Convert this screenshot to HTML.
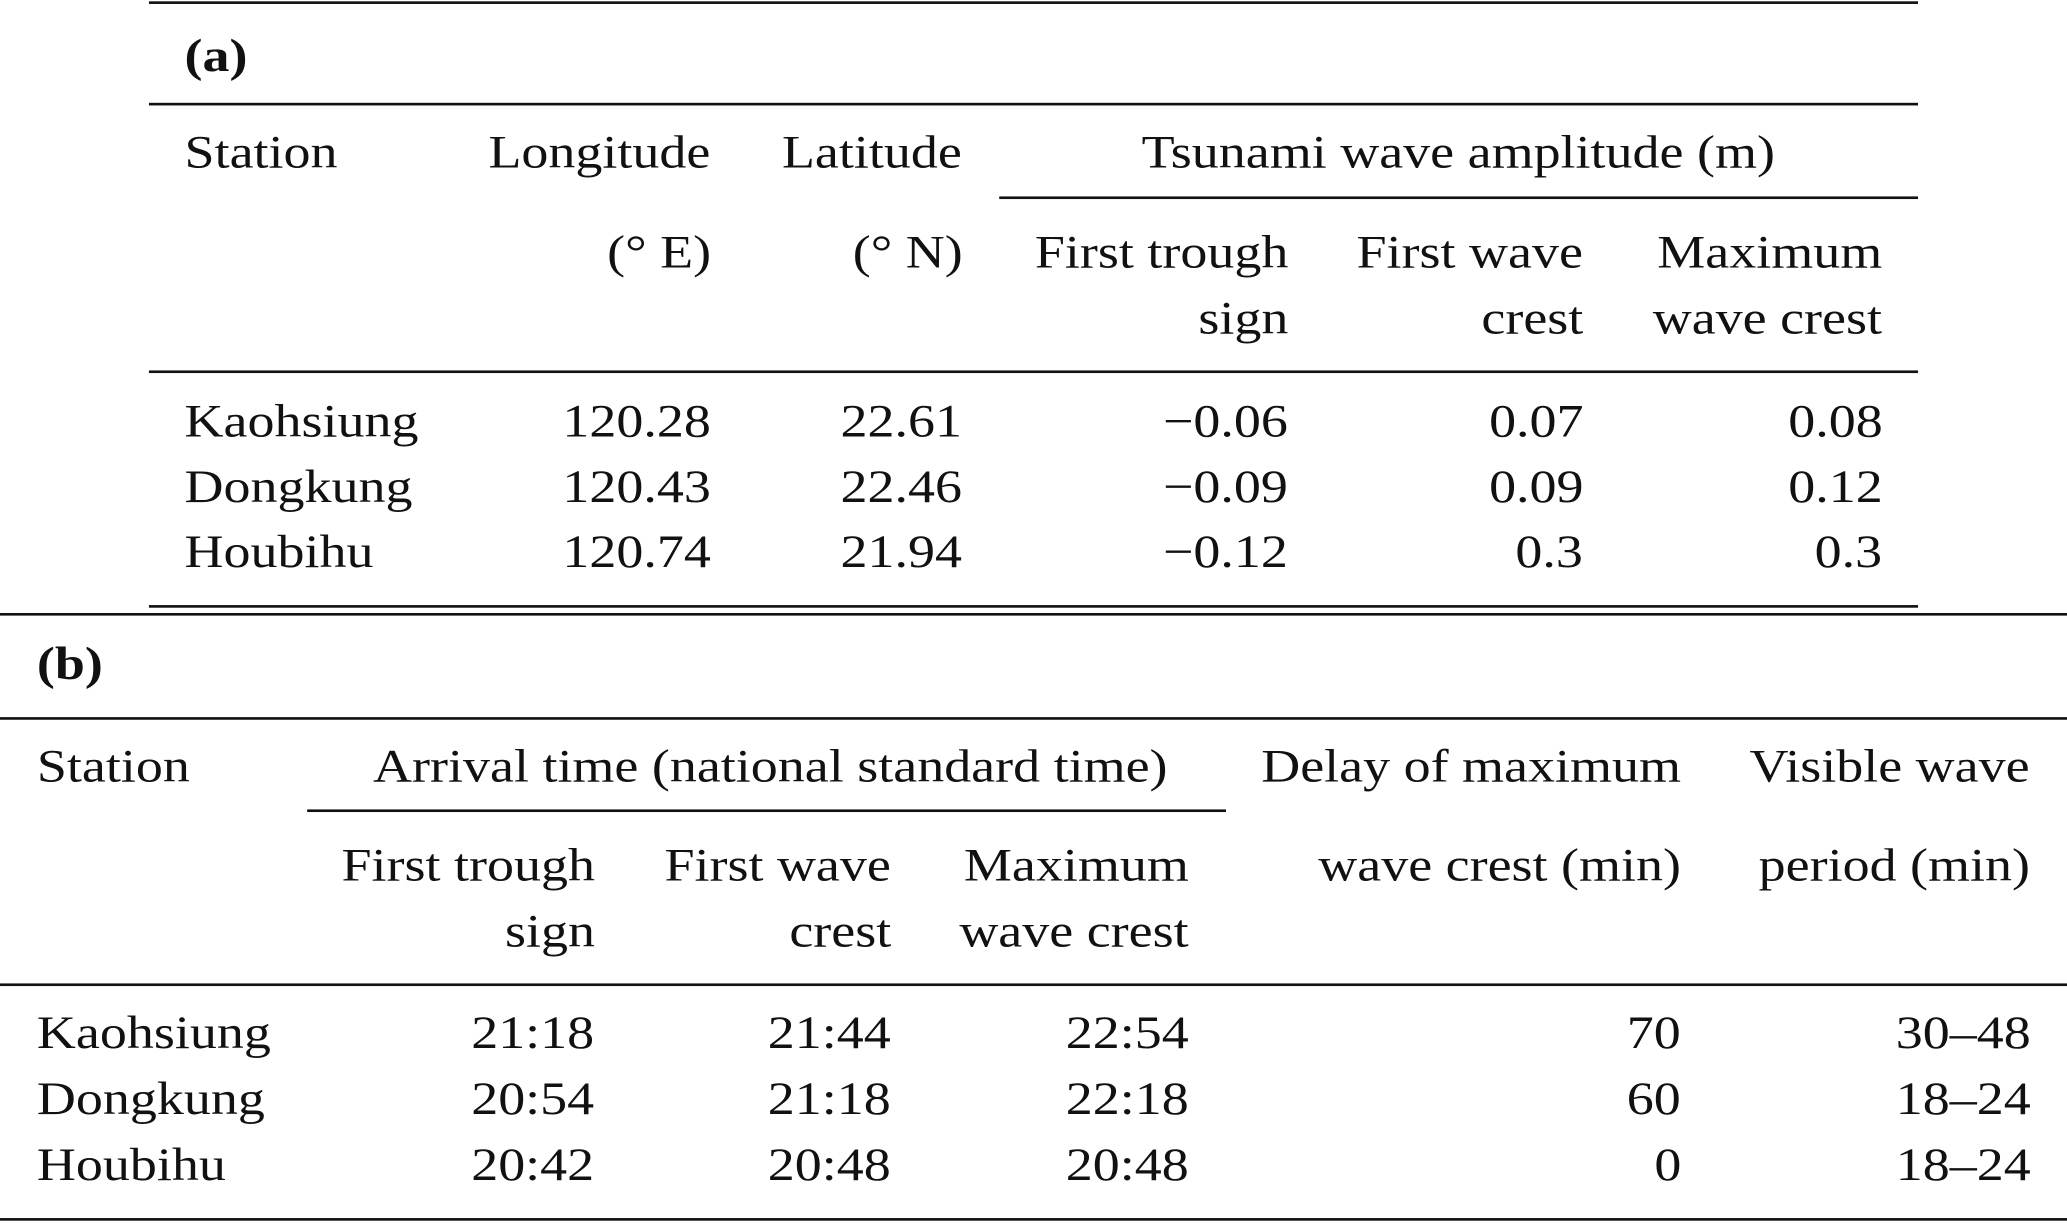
<!DOCTYPE html>
<html><head><meta charset="utf-8">
<style>
html,body{margin:0;padding:0;background:#fff;width:2067px;height:1222px;overflow:hidden}
#wrap{position:absolute;left:0;top:0;width:1568px;height:928px;transform:scale(1.31824);transform-origin:0 0;font-family:"Liberation Serif",serif;font-size:35px;color:#111}
.t{position:absolute;height:40px;line-height:40px;white-space:nowrap;transform:scaleX(1.17);transform-origin:left center;margin-top:1px}
.r{text-align:right;transform-origin:right center}
.l{position:absolute;height:2px;background:#111}
b{font-weight:bold}
</style></head><body>
<div id="wrap">
<div class="l" style="left:113px;width:1342px;top:1px"></div>
<div class="t" style="left:140px;top:22px"><b>(a)</b></div>
<div class="l" style="left:113px;width:1342px;top:78px"></div>
<div class="t" style="left:140px;top:95px">Station</div>
<div class="t r" style="right:1029px;top:95px">Longitude</div>
<div class="t r" style="right:838px;top:95px">Latitude</div>
<div class="t" style="left:866px;top:95px">Tsunami wave amplitude (m)</div>
<div class="l" style="left:758px;width:697px;top:149px"></div>
<div class="t r" style="right:1029px;top:171px">(° E)</div>
<div class="t r" style="right:838px;top:171px">(° N)</div>
<div class="t r" style="right:591px;top:171px">First trough</div>
<div class="t r" style="right:591px;top:221px">sign</div>
<div class="t r" style="right:367px;top:171px">First wave</div>
<div class="t r" style="right:367px;top:221px">crest</div>
<div class="t r" style="right:140px;top:171px">Maximum</div>
<div class="t r" style="right:140px;top:221px">wave crest</div>
<div class="l" style="left:113px;width:1342px;top:281px"></div>

<div class="t" style="left:140px;top:299px">Kaohsiung</div>
<div class="t r" style="right:1029px;top:299px">120.28</div>
<div class="t r" style="right:838px;top:299px">22.61</div>
<div class="t r" style="right:591px;top:299px">−0.06</div>
<div class="t r" style="right:367px;top:299px">0.07</div>
<div class="t r" style="right:140px;top:299px">0.08</div>

<div class="t" style="left:140px;top:349px">Dongkung</div>
<div class="t r" style="right:1029px;top:349px">120.43</div>
<div class="t r" style="right:838px;top:349px">22.46</div>
<div class="t r" style="right:591px;top:349px">−0.09</div>
<div class="t r" style="right:367px;top:349px">0.09</div>
<div class="t r" style="right:140px;top:349px">0.12</div>

<div class="t" style="left:140px;top:398px">Houbihu</div>
<div class="t r" style="right:1029px;top:398px">120.74</div>
<div class="t r" style="right:838px;top:398px">21.94</div>
<div class="t r" style="right:591px;top:398px">−0.12</div>
<div class="t r" style="right:367px;top:398px">0.3</div>
<div class="t r" style="right:140px;top:398px">0.3</div>
<div class="l" style="left:113px;width:1342px;top:459px"></div>
<div class="l" style="left:0;width:1568px;top:465px"></div>

<div class="t" style="left:28px;top:483px"><b>(b)</b></div>
<div class="l" style="left:0;width:1568px;top:544px"></div>
<div class="t" style="left:28px;top:561px">Station</div>
<div class="t" style="left:283px;top:561px">Arrival time (national standard time)</div>
<div class="t r" style="right:293px;top:561px">Delay of maximum</div>
<div class="t r" style="right:28px;top:561px">Visible wave</div>
<div class="l" style="left:233px;width:697px;top:614px"></div>
<div class="t r" style="right:1117px;top:636px">First trough</div>
<div class="t r" style="right:1117px;top:686px">sign</div>
<div class="t r" style="right:892px;top:636px">First wave</div>
<div class="t r" style="right:892px;top:686px">crest</div>
<div class="t r" style="right:666px;top:636px">Maximum</div>
<div class="t r" style="right:666px;top:686px">wave crest</div>
<div class="t r" style="right:293px;top:636px">wave crest (min)</div>
<div class="t r" style="right:28px;top:636px">period (min)</div>
<div class="l" style="left:0;width:1568px;top:746px"></div>

<div class="t" style="left:28px;top:763px">Kaohsiung</div>
<div class="t r" style="right:1117px;top:763px">21:18</div>
<div class="t r" style="right:892px;top:763px">21:44</div>
<div class="t r" style="right:666px;top:763px">22:54</div>
<div class="t r" style="right:293px;top:763px">70</div>
<div class="t r" style="right:28px;top:763px">30–48</div>

<div class="t" style="left:28px;top:813px">Dongkung</div>
<div class="t r" style="right:1117px;top:813px">20:54</div>
<div class="t r" style="right:892px;top:813px">21:18</div>
<div class="t r" style="right:666px;top:813px">22:18</div>
<div class="t r" style="right:293px;top:813px">60</div>
<div class="t r" style="right:28px;top:813px">18–24</div>

<div class="t" style="left:28px;top:863px">Houbihu</div>
<div class="t r" style="right:1117px;top:863px">20:42</div>
<div class="t r" style="right:892px;top:863px">20:48</div>
<div class="t r" style="right:666px;top:863px">20:48</div>
<div class="t r" style="right:293px;top:863px">0</div>
<div class="t r" style="right:28px;top:863px">18–24</div>
<div class="l" style="left:0;width:1568px;top:924px"></div>
</div>
</body></html>
